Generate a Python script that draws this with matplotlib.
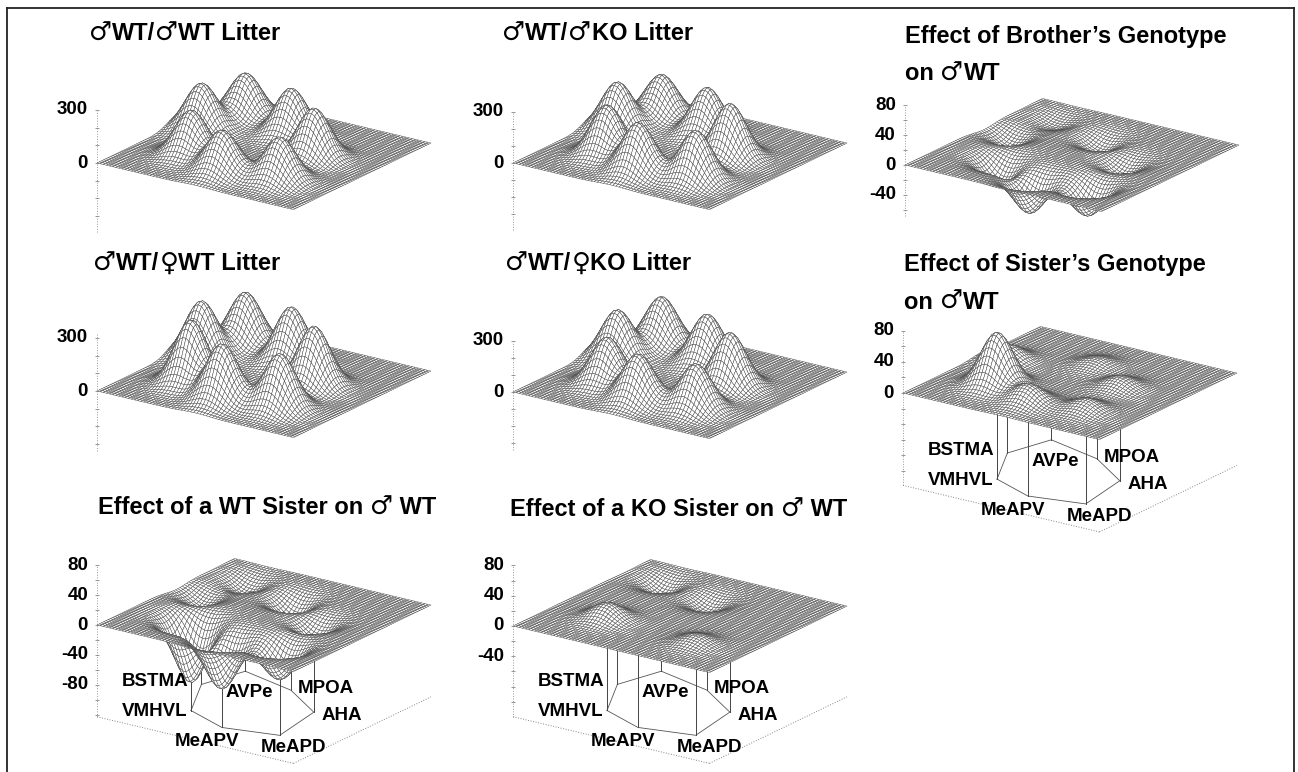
import matplotlib
matplotlib.use('Agg')
import matplotlib.pyplot as plt
from matplotlib.lines import Line2D
from mpl_toolkits.mplot3d import proj3d
import numpy as np

W, H = 1298, 772
plt.rcParams['font.family'] = ['Liberation Sans', 'DejaVu Sans']

# Nuclei, and where they sit on the plate (0-1 along each side)
nuclei = ['VMHVL', 'BSTMA', 'AVPe', 'MPOA', 'AHA', 'MeAPD', 'MeAPV']
node_u = [0.277, 0.128, 0.185, 0.475, 0.708, 0.755, 0.502]
node_v = [0.288, 0.576, 0.814, 0.732, 0.565, 0.250, 0.191]

# Peak heights, same order as nuclei
wt_wt = [262, 267, 250, 272, 283, 250, 244]
wt_ko = [300, 283, 250, 285, 320, 297, 297]
wt_fwt = [365, 325, 300, 325, 340, 315, 325]
wt_fko = [283, 290, 290, 300, 320, 272, 283]
brother = [-35, -20, -12, -19, -21, -43, -50]
sister = [70, 20, 0, 11, 15, 16, 25]
wt_sister = [-85, -20, -20, -28, -25, -48, -71]
ko_sister = [22, 0, -20, -18, 0, 13, 0]

litter_ticks = [300, 0]
effect_ticks = [80, 40, 0, -40]
wt_sister_ticks = [80, 40, 0, -40, -80]

# Pixel offsets of the nucleus labels from the left floor corner
label_dx = [58, 58, 152, 229, 245, 196, 110]
label_dy = [-5, -35, -24, -28, -1, 31, 25]

SIGMA = 0.07
ELEV, AZIM = 19.8, -55
SIDE = 241.0
GRID = 64


def surface(peaks, uu, vv):
    z = np.zeros_like(uu)
    for u0, v0, p in zip(node_u, node_v, peaks):
        z += p * np.exp(-((uu - u0)**2 + (vv - v0)**2) / (2 * SIGMA**2))
    return z


def to_pixels(ax, x, y, z):
    xp, yp, _ = proj3d.proj_transform(x, y, z, ax.get_proj())
    return ax.transData.transform((xp, yp))


def panel(corner, scale, zrange, peaks, ticks, minor, labels=False):
    size = 470
    ax = fig.add_axes([0.1, 0.1, size / W, size / H], projection='3d', proj_type='ortho')
    ax.computed_zorder = False
    ax.view_init(elev=ELEV, azim=AZIM)
    ax.set_xlim(0, 1)
    ax.set_ylim(0, 1)
    ax.set_zlim(*zrange)
    ax.set_axis_off()
    # 3d axes still paint their patch with the axis off, and these overlap
    ax.patch.set_visible(False)

    # get the scale right first, then slide the axes so the corner lands in place
    h = (zrange[1] - zrange[0]) * scale / (np.cos(np.radians(ELEV)) * SIDE)
    zoom = 1.0
    for _ in range(3):
        ax.set_box_aspect((1, 1, h), zoom=zoom)
        ax.apply_aspect()
        a = to_pixels(ax, 0, 0, 0)
        b = to_pixels(ax, 1, 1, 0)
        zoom *= 334 / (b[0] - a[0])
    ax.set_box_aspect((1, 1, h), zoom=zoom)
    a = to_pixels(ax, 0, 0, 0)
    ax.set_position([0.1 + (corner[0] - a[0]) / W, 0.1 + (H - corner[1] - a[1]) / H, size / W, size / H])
    ax.apply_aspect()

    uu, vv = np.meshgrid(np.linspace(0, 1, GRID), np.linspace(0, 1, GRID))
    zz = surface(peaks, uu, vv)
    ax.plot_surface(uu, vv, zz, rstride=1, cstride=1, color='white', edgecolor='#4a4a4a',
                    linewidth=0.33, shade=False, antialiased=True, zorder=3)

    # z axis, dotted with small ticks
    zt = np.arange(zrange[0] - zrange[0] % minor + minor, zrange[1] + 1, minor)
    ax.plot([0, 0], [0, 0], [zrange[0], zrange[1]], color='#999999', lw=0.7, ls=':', zorder=1)
    ax.plot(np.zeros_like(zt), np.zeros_like(zt), zt, ls='none', marker='_', ms=3,
            mew=0.6, color='#888888', zorder=1)
    for t in ticks:
        p = to_pixels(ax, 0, 0, t)
        fig.text((p[0] - 9) / W, p[1] / H, str(t), ha='right', va='center',
                 fontsize=13.5, fontweight='bold')

    if labels:
        floor = zrange[0]
        ax.plot([0, 1], [0, 0], [floor, floor], color='#888888', lw=0.7, ls=':', zorder=1)
        ax.plot([1, 1], [0, 1], [floor, floor], color='#888888', lw=0.7, ls=':', zorder=1)
        ring_u = node_u + node_u[:1]
        ring_v = node_v + node_v[:1]
        ax.plot(ring_u, ring_v, [floor] * len(ring_u), color='#555555', lw=0.6, zorder=1)
        for u0, v0 in zip(node_u, node_v):
            top = surface(peaks, np.array(u0), np.array(v0))
            ax.plot([u0, u0], [v0, v0], [floor, top], color='#444444', lw=0.7, zorder=1)
        start = to_pixels(ax, 0, 0, floor)
        for name, dx, dy in zip(nuclei, label_dx, label_dy):
            fig.text((start[0] + dx) / W, (start[1] - dy) / H, name, ha='center', va='center',
                     fontsize=13.5, fontweight='bold')
    return ax


def title(x, y, s):
    # the sex symbols are bigger and lighter than the bold text, so draw them as their own runs
    run = ''
    for ch in s + '\0':
        if ch in '♂♀\0':
            if run:
                t = fig.text(x / W, 1 - y / H, run, ha='left', va='center', fontsize=17, fontweight='bold')
                x += t.get_window_extent(fig.canvas.get_renderer()).width
                run = ''
            if ch != '\0':
                t = fig.text(x / W, 1 - y / H, ch, ha='left', va='center', fontsize=18.5, family='DejaVu Sans')
                x += t.get_window_extent(fig.canvas.get_renderer()).width
        else:
            run += ch


fig = plt.figure(figsize=(W / 100, H / 100), dpi=100)

panel((97, 163), 0.178, (-390, 300), wt_wt, litter_ticks, 100)
panel((513, 163), 0.172, (-390, 300), wt_ko, litter_ticks, 100)
panel((905, 165), 0.75, (-68, 80), brother, effect_ticks, 20)
panel((97, 391), 0.178, (-340, 320), wt_fwt, litter_ticks, 100)
panel((513, 392), 0.172, (-340, 300), wt_fko, litter_ticks, 100)
panel((903, 393), 0.78, (-119, 80), sister, effect_ticks[:3], 20, labels=True)
panel((97, 625), 0.75, (-123, 80), wt_sister, wt_sister_ticks, 20, labels=True)
panel((513, 626), 0.76, (-120, 80), ko_sister, effect_ticks, 20, labels=True)

title(89, 34, '♂WT/♂WT Litter')
title(502, 34, '♂WT/♂KO Litter')
title(905, 36, 'Effect of Brother’s Genotype')
title(905, 74, 'on ♂WT')
title(93, 264, '♂WT/♀WT Litter')
title(505, 264, '♂WT/♀KO Litter')
title(904, 265, 'Effect of Sister’s Genotype')
title(904, 302, 'on ♂WT')
title(98, 508, 'Effect of a WT Sister on ♂ WT')
title(510, 510, 'Effect of a KO Sister on ♂ WT')

# scanned frame, open at the bottom
for xs, ys in [((7, 7), (8, H)), ((7, 1294), (8, 8)), ((1294, 1294), (8, H))]:
    fig.add_artist(Line2D([x / W for x in xs], [1 - y / H for y in ys], color='#222222', lw=1.3))

fig.savefig('out.png', dpi=100)
